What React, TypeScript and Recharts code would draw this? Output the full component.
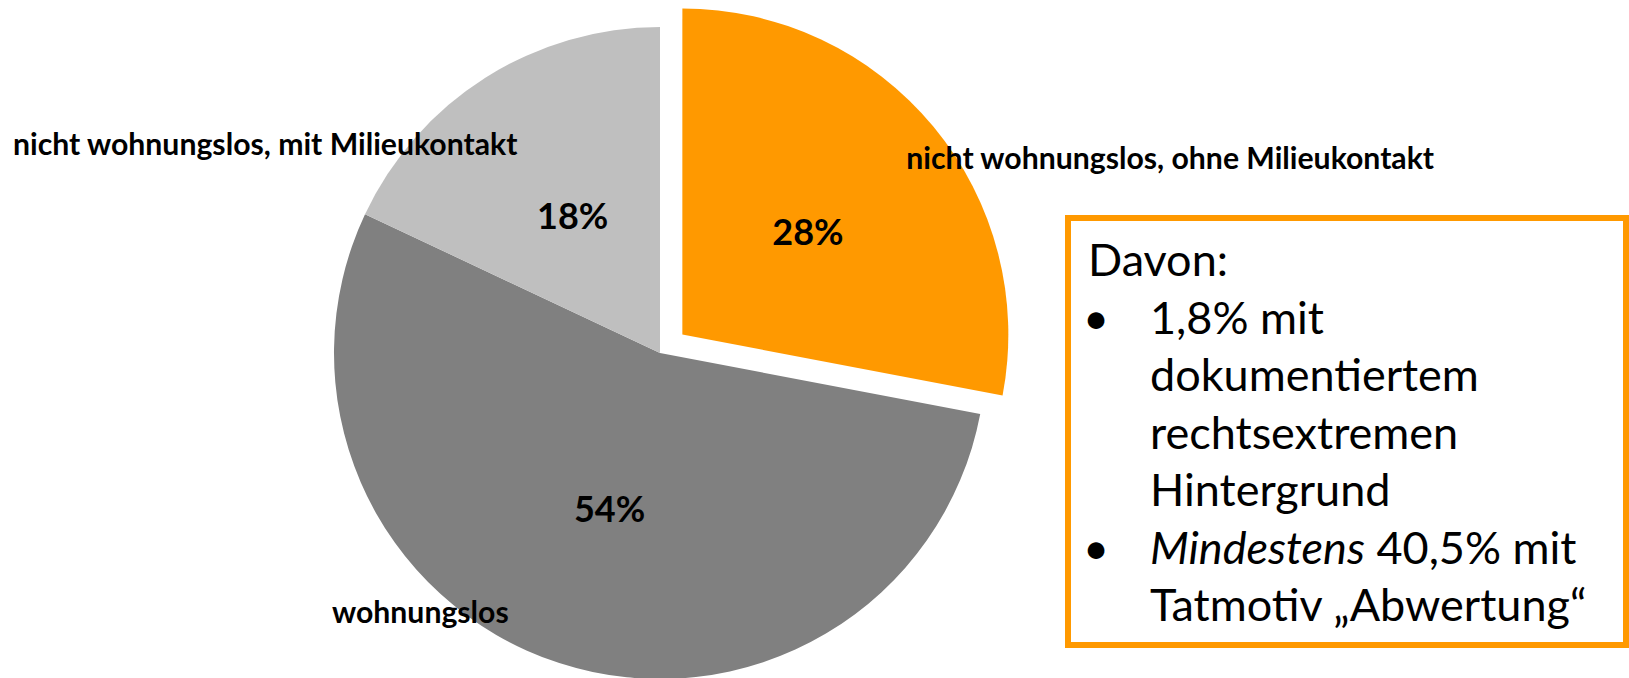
import React from "react";
import { PieChart, Pie, Cell } from "recharts";

// ---- data ----
const categories = [
  "nicht wohnungslos, ohne Milieukontakt",
  "wohnungslos",
  "nicht wohnungslos, mit Milieukontakt",
];
const shares = [28, 54, 18];
const sliceColors = ["#FF9900", "#808080", "#BFBFBF"];
const explodedIndex = 0;

const boxTitle = "Davon:";
const bullet1Lines = ["1,8% mit", "dokumentiertem", "rechtsextremen", "Hintergrund"];
const bullet2Italic = "Mindestens";
const bullet2Rest = " 40,5% mit";
const bullet2Line2 = "Tatmotiv „Abwertung“";

// ---- layout ----
const W = 1629;
const H = 678;
const CX = 660;
const CY = 353;
const R = 326;
const EXPLODE = 29;
const START = 90;
const END = -270;
// category label offsets (text start, vertical centre) relative to slice centre
const nameOffsets = [
  { dx: 224, dy: -178 },
  { dx: -328, dy: 258 },
  { dx: -647, dy: -210 },
];

const data = categories.map((name, i) => ({ name, value: shares[i] }));
const total = shares.reduce((a, b) => a + b, 0);
const before = shares.slice(0, explodedIndex).reduce((a, b) => a + b, 0);
const midExploded =
  START + (END - START) * ((before + shares[explodedIndex] / 2) / total);
const RAD = Math.PI / 180;
const exDx = EXPLODE * Math.cos(midExploded * RAD);
const exDy = -EXPLODE * Math.sin(midExploded * RAD);

const FONT = "Lato, 'Open Sans', sans-serif";

const makeLabel = (visible: (i: number) => boolean) => (props: any) => {
  const { cx, cy, midAngle, outerRadius, index, value } = props;
  if (!visible(index)) return <g />;
  const px = cx + outerRadius * 0.5 * Math.cos(midAngle * RAD);
  const py = cy - outerRadius * 0.5 * Math.sin(midAngle * RAD);
  const off = nameOffsets[index];
  return (
    <g>
      <text
        x={px}
        y={py}
        textAnchor="middle"
        dominantBaseline="central"
        fontFamily={FONT}
        fontWeight={700}
        fontSize={36}
        fill="#000"
      >
        {`${Math.round((value / total) * 100)}%`}
      </text>
      <text
        x={cx + off.dx}
        y={cy + off.dy}
        textAnchor="start"
        dominantBaseline="central"
        fontFamily={FONT}
        fontWeight={700}
        fontSize={30.2}
        fill="#000"
      >
        {categories[index]}
      </text>
    </g>
  );
};

export default function App() {
  return (
    <div style={{ position: "relative", width: W, height: H, background: "#fff", overflow: "hidden" }}>
      <style>{`body{margin:0;}`}</style>
      <PieChart width={W} height={H} margin={{ top: 0, right: 0, bottom: 0, left: 0 }}>
        <Pie
          data={data}
          dataKey="value"
          nameKey="name"
          cx={CX}
          cy={CY}
          outerRadius={R}
          startAngle={START}
          endAngle={END}
          stroke="none"
          labelLine={false}
          label={makeLabel((i) => i !== explodedIndex)}
          isAnimationActive={false}
        >
          {data.map((d, i) => (
            <Cell key={d.name} fill={i === explodedIndex ? "transparent" : sliceColors[i]} />
          ))}
        </Pie>
        <Pie
          data={data}
          dataKey="value"
          nameKey="name"
          cx={CX + exDx}
          cy={CY + exDy}
          outerRadius={R}
          startAngle={START}
          endAngle={END}
          stroke="none"
          labelLine={false}
          label={makeLabel((i) => i === explodedIndex)}
          isAnimationActive={false}
        >
          {data.map((d, i) => (
            <Cell key={d.name} fill={i === explodedIndex ? sliceColors[i] : "transparent"} />
          ))}
        </Pie>
      </PieChart>
      <div
        style={{
          position: "absolute",
          left: 1065,
          top: 215,
          width: 564,
          height: 433,
          border: "6px solid #FF9900",
          boxSizing: "border-box",
          background: "#fff",
          fontFamily: FONT,
          fontSize: 45,
          lineHeight: "57.5px",
          color: "#000",
          padding: "10px 0 0 17px",
          whiteSpace: "nowrap",
        }}
      >
        <div>{boxTitle}</div>
        <div style={{ display: "flex" }}>
          <div style={{ width: 62, marginLeft: -5, marginRight: 5 }}>•</div>
          <div>
            {bullet1Lines.map((l) => (
              <div key={l}>{l}</div>
            ))}
          </div>
        </div>
        <div style={{ display: "flex" }}>
          <div style={{ width: 62, marginLeft: -5, marginRight: 5 }}>•</div>
          <div>
            <div>
              <i>{bullet2Italic}</i>
              {bullet2Rest}
            </div>
            <div>{bullet2Line2}</div>
          </div>
        </div>
      </div>
    </div>
  );
}
